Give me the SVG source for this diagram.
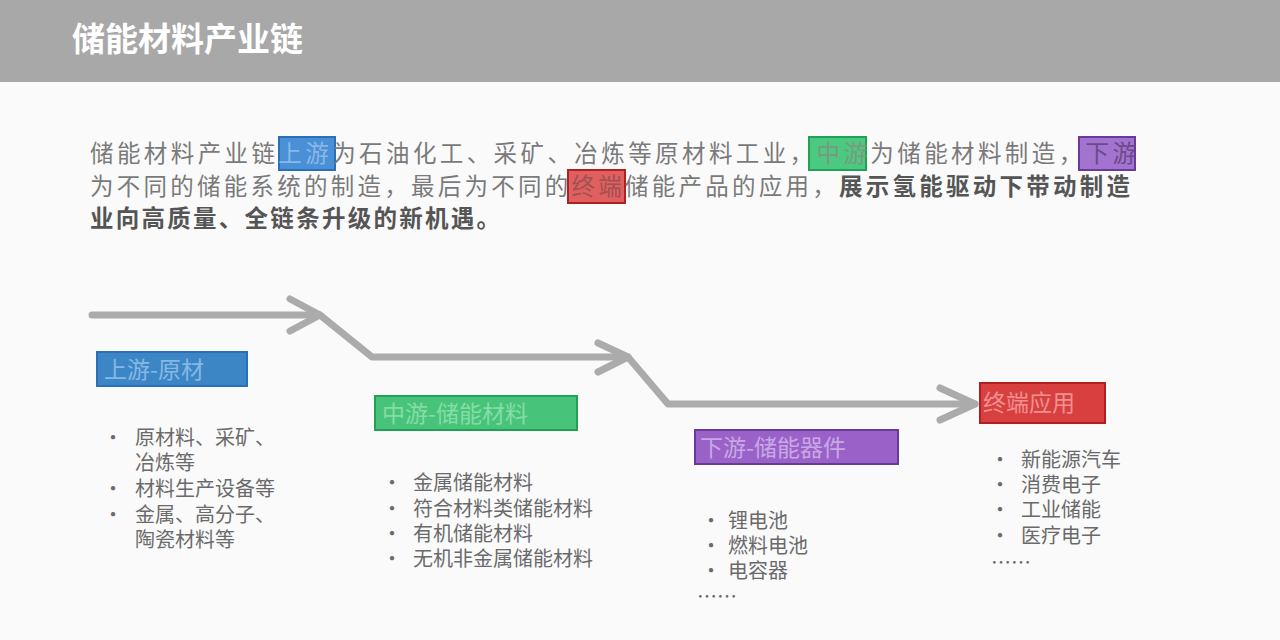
<svg xmlns="http://www.w3.org/2000/svg" width="1280" height="640" viewBox="0 0 1280 640">
<style>
text{font-family:"Noto Sans CJK SC","Liberation Sans",sans-serif}
.p{font-size:23.5px;fill:#7a7a7a}
.pb{font-size:23.5px;fill:#555;font-weight:bold}
.li{font-size:20px;fill:#6a6a6a}
.bt{font-size:23px}
.ar{fill:none;stroke:#ababab;stroke-width:7;stroke-linecap:round;stroke-linejoin:round}
</style>
<rect width="1280" height="640" fill="#fafafb"/>
<rect width="1280" height="82" fill="#a8a8a8"/>
<text x="72" y="51" font-size="33" font-weight="bold" fill="#fff">储能材料产业链</text>
<g id="hl">
<rect x="279" y="137" width="56" height="33" fill="#4a90d6" stroke="#2a6fb8" stroke-width="2"/>
<rect x="809" y="137" width="57" height="33" fill="#4cc980" stroke="#22a055" stroke-width="2"/>
<rect x="1079" y="137" width="56" height="33" fill="#a373d0" stroke="#6a3a9a" stroke-width="2"/>
<rect x="568" y="170" width="57" height="33" fill="#e06060" stroke="#b02020" stroke-width="2"/>
</g>
<text class="p" x="90" y="162" textLength="1046">储能材料产业链<tspan fill="#8ab8e6">上游</tspan>为石油化工、采矿、冶炼等原材料工业，<tspan fill="#7a9a80">中游</tspan>为储能材料制造，<tspan fill="#6a4a8a">下游</tspan></text>
<text class="p" x="90" y="195" textLength="1040">为不同的储能系统的制造，最后为不同的<tspan fill="#a05050">终端</tspan>储能产品的应用，<tspan class="pb">展示氢能驱动下带动制造</tspan></text>
<text class="pb" x="90" y="227" textLength="410">业向高质量、全链条升级的新机遇。</text>
<g id="connectors">
<path class="ar" d="M92,315 H320 L372,357 H628 L668,404 H975"/>
<path class="ar" d="M290,299 L320,315 L290,331"/>
<path class="ar" d="M598,343 L628,357 L598,372"/>
<path class="ar" d="M940,388 L975,404 L940,420"/>
</g>
<g id="n1">
<rect x="97" y="352" width="150" height="34" fill="#3d86c6" stroke="#2a6fb8" stroke-width="2"/>
<text class="bt" x="104" y="378" fill="#86b8e4">上游-原材</text>
<text class="li" x="103" y="445">·</text><text class="li" x="135" y="445">原材料、采矿、</text>
<text class="li" x="135" y="470">冶炼等</text>
<text class="li" x="103" y="496">·</text><text class="li" x="135" y="496">材料生产设备等</text>
<text class="li" x="103" y="522">·</text><text class="li" x="135" y="522">金属、高分子、</text>
<text class="li" x="135" y="547">陶瓷材料等</text>
</g>
<g id="n2">
<rect x="375" y="396" width="202" height="34" fill="#48c47a" stroke="#22a055" stroke-width="2"/>
<text class="bt" x="382" y="422" fill="#86dca8">中游-储能材料</text>
<text class="li" x="382" y="490">·</text><text class="li" x="413" y="490">金属储能材料</text>
<text class="li" x="382" y="516">·</text><text class="li" x="413" y="516">符合材料类储能材料</text>
<text class="li" x="382" y="541">·</text><text class="li" x="413" y="541">有机储能材料</text>
<text class="li" x="382" y="566">·</text><text class="li" x="413" y="566">无机非金属储能材料</text>
</g>
<g id="n3">
<rect x="695" y="430" width="203" height="34" fill="#9a62c9" stroke="#6a3a9a" stroke-width="2"/>
<text class="bt" x="700" y="456" fill="#c8a8e4">下游-储能器件</text>
<text class="li" x="701" y="528">·</text><text class="li" x="728" y="528">锂电池</text>
<text class="li" x="701" y="553">·</text><text class="li" x="728" y="553">燃料电池</text>
<text class="li" x="701" y="578">·</text><text class="li" x="728" y="578">电容器</text>
<text class="li" x="697" y="604">……</text>
</g>
<g id="n4">
<rect x="980" y="383" width="125" height="40" fill="#d84040" stroke="#b02020" stroke-width="2"/>
<text class="bt" x="983" y="411" fill="#f09090">终端应用</text>
<text class="li" x="990" y="467">·</text><text class="li" x="1021" y="467">新能源汽车</text>
<text class="li" x="990" y="492">·</text><text class="li" x="1021" y="492">消费电子</text>
<text class="li" x="990" y="517">·</text><text class="li" x="1021" y="517">工业储能</text>
<text class="li" x="990" y="543">·</text><text class="li" x="1021" y="543">医疗电子</text>
<text class="li" x="991" y="570">……</text>
</g>
</svg>
